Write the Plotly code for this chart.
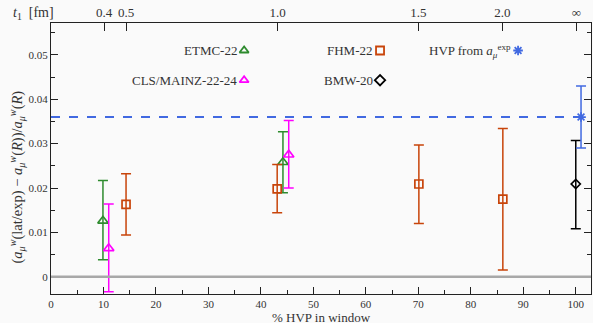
import plotly.graph_objects as go

# ---- data ----
etmc_x = [9.9, 44.2]
etmc_y = [0.0126, 0.0258]
etmc_hi = [0.0217, 0.0327]
etmc_lo = [0.0038, 0.0189]

cls_x = [11.0, 45.3]
cls_y = [0.0064, 0.0275]
cls_hi = [0.0164, 0.0352]
cls_lo = [-0.0034, 0.0200]

fhm_x = [14.3, 43.1, 70.1, 86.1]
fhm_y = [0.0163, 0.0198, 0.0209, 0.0175]
fhm_hi = [0.0232, 0.0253, 0.0297, 0.0334]
fhm_lo = [0.0094, 0.0144, 0.0120, 0.0015]

bmw_x = [100.0]
bmw_y = [0.0209]
bmw_hi = [0.0307]
bmw_lo = [0.0108]

hvp_x = [101.0]
hvp_y = [0.0360]
hvp_hi = [0.0430]
hvp_lo = [0.0290]

top_tick_pos = [10.1, 14.3, 43.2, 70.0, 86.0, 100.1]
top_tick_text = ["0.4", "0.5", "1.0", "1.5", "2.0", "∞"]

FONT = "Liberation Serif"
BG = "#fafafa"
TXT = "#333"

fig = go.Figure()


def add_series(name, xs, ys, hi, lo, color, symbol, size):
    fig.add_trace(go.Scatter(
        x=xs, y=ys, mode="markers", name=name, showlegend=False,
        marker=dict(symbol=symbol, size=size, color=color,
                    line=dict(color=color, width=1.7)),
        error_y=dict(type="data", symmetric=False,
                     array=[h - y for h, y in zip(hi, ys)],
                     arrayminus=[y - l for l, y in zip(lo, ys)],
                     color=color, thickness=1.5, width=5),
    ))


GREEN = "#2e8b2e"
MAG = "#ff00ff"
ORANGE = "#c8440a"
BLACK = "#000000"
BLUE = "#4169e1"

# zero line and experimental line
fig.add_hline(y=0, line=dict(color="#a8a8a8", width=2.5))
fig.add_hline(y=hvp_y[0], line=dict(color=BLUE, width=2, dash="dash"))

add_series("ETMC-22", etmc_x, etmc_y, etmc_hi, etmc_lo, GREEN, "triangle-up-open", 9)
add_series("CLS/MAINZ-22-24", cls_x, cls_y, cls_hi, cls_lo, MAG, "triangle-up-open", 9)
add_series("FHM-22", fhm_x, fhm_y, fhm_hi, fhm_lo, ORANGE, "square-open", 8)
add_series("BMW-20", bmw_x, bmw_y, bmw_hi, bmw_lo, BLACK, "diamond-open", 7)
add_series("HVP from a_mu^exp", hvp_x, hvp_y, hvp_hi, hvp_lo, BLUE, "asterisk-open", 8)

# legend-like keys (text then marker)
legend_items = [
    ("ETMC-22", GREEN, "triangle-up-open", 36.8, 0.0510),
    ("CLS/MAINZ-22-24", MAG, "triangle-up-open", 36.8, 0.0443),
    ("FHM-22", ORANGE, "square-open", 62.7, 0.0510),
    ("BMW-20", BLACK, "diamond-open", 62.7, 0.0443),
    ("HVP from <i>a</i><sub><i>μ</i></sub><sup>exp</sup>", BLUE, "asterisk-open", 89.0, 0.0510),
]
for txt, col, sym, lx, ly in legend_items:
    fig.add_trace(go.Scatter(x=[lx], y=[ly], mode="markers", showlegend=False,
                             marker=dict(symbol=sym, size=8, color=col,
                                         line=dict(color=col, width=1.8))))
    fig.add_annotation(x=lx - 1.0, y=ly, text=txt, showarrow=False,
                       xanchor="right", yanchor="middle",
                       font=dict(family=FONT, size=13, color=TXT))

fig.update_layout(
    width=593, height=323,
    margin=dict(l=51, r=2, t=23, b=29, autoexpand=False),
    paper_bgcolor=BG, plot_bgcolor=BG,
    font=dict(family=FONT, size=11, color=TXT),
    showlegend=False,
    xaxis=dict(range=[0, 102.9], tickvals=list(range(0, 101, 10)),
               ticks="inside", ticklen=7, tickcolor="#222", tickwidth=1.2,
               minor=dict(ticks="inside", ticklen=4, dtick=5, tickcolor="#222"),
               showgrid=False, zeroline=False, showline=True, linecolor="#222",
               linewidth=1.2, automargin=False,
               tickfont=dict(family=FONT, size=11, color=TXT)),
    xaxis2=dict(range=[0, 102.9], overlaying="x", side="top",
                tickvals=top_tick_pos, ticktext=top_tick_text,
                ticks="inside", ticklen=8, tickcolor="#222", tickwidth=1.2,
                showgrid=False, zeroline=False, showline=True, linecolor="#222",
                linewidth=1.2, automargin=False,
                tickfont=dict(family=FONT, size=13, color=TXT)),
    yaxis=dict(range=[-0.0039, 0.0572], tickvals=[0, 0.01, 0.02, 0.03, 0.04, 0.05],
               ticktext=["0", "0.01", "0.02", "0.03", "0.04", "0.05"],
               ticks="inside", ticklen=7, tickcolor="#222", tickwidth=1.2,
               minor=dict(ticks="inside", ticklen=4, dtick=0.005, tickcolor="#222"),
               showgrid=False, zeroline=False, showline=True, linecolor="#222",
               linewidth=1.2, mirror="ticks", automargin=False,
               tickfont=dict(family=FONT, size=11, color=TXT)),
)

# dummy trace to activate xaxis2
fig.add_trace(go.Scatter(x=[None], y=[None], xaxis="x2", showlegend=False))

# axis titles
fig.add_annotation(xref="paper", yref="paper", x=0.5, y=0, yshift=-23,
                   text="% HVP in window", showarrow=False,
                   xanchor="center", yanchor="middle",
                   font=dict(family=FONT, size=13, color=TXT))
fig.add_annotation(xref="paper", yref="paper", x=0, xshift=-34, y=0.43,
                   text="(<i>a</i><sub><i>μ</i></sub><sup><i>w</i></sup>(lat/exp) − "
                        "<i>a</i><sub><i>μ</i></sub><sup><i>w</i></sup>(<i>R</i>))/"
                        "<i>a</i><sub><i>μ</i></sub><sup><i>w</i></sup>(<i>R</i>)",
                   textangle=-90, showarrow=False,
                   xanchor="center", yanchor="middle",
                   font=dict(family=FONT, size=14.5, color=TXT))
fig.add_annotation(xref="paper", yref="paper", x=0, xshift=-40, y=1.0, yshift=10,
                   text="<i>t</i><sub>1</sub>  [fm]", showarrow=False,
                   xanchor="left", yanchor="middle",
                   font=dict(family=FONT, size=14, color=TXT))

fig.write_html("out.html",
               config={"displayModeBar": False},
               post_script="document.body.style.margin='0';"
                           "document.body.style.overflow='hidden';")
